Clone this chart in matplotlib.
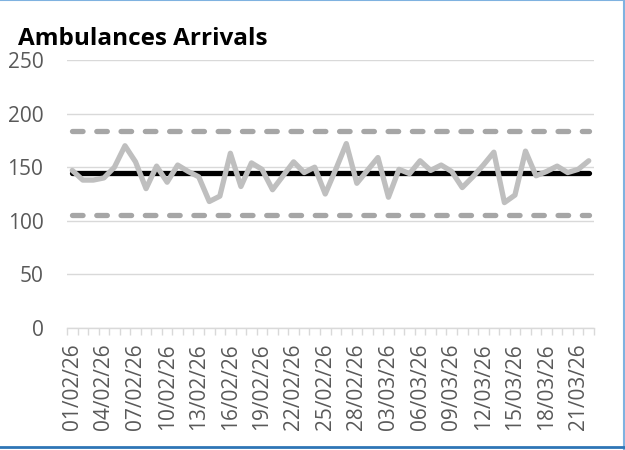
import matplotlib
matplotlib.use("Agg")
import matplotlib.pyplot as plt
from matplotlib.lines import Line2D
import numpy as np
import pandas as pd

# daily ambulance arrivals, 01/02/26 - 22/03/26
dates = pd.date_range("2026-02-01", "2026-03-22", freq="D")
arrivals = [147, 138, 138, 140, 150, 170, 155, 130, 151, 136,
            152, 146, 141, 118, 123, 163, 132, 154, 148, 129,
            142, 155, 145, 150, 125, 148, 172, 135, 147, 159,
            122, 148, 144, 156, 147, 152, 146, 131, 141, 152,
            164, 117, 124, 165, 142, 146, 151, 145, 148, 156]
mean_level = 144.5
upper_limit = 184
lower_limit = 105
y_ticks = [0, 50, 100, 150, 200, 250]

date_labels = [d.strftime("%d/%m/%y") for d in dates]
x = np.arange(len(arrivals))

plt.rcParams["font.family"] = ["Open Sans", "DejaVu Sans"]

fig = plt.figure(figsize=(6.25, 4.5), dpi=100)
ax = fig.add_axes([67 / 625, 1 - 328 / 450, (594 - 67) / 625, (328 - 60) / 450])

lw = 3.8
ax.plot(x, [upper_limit] * len(x), color="#A6A6A6", lw=lw,
        dashes=(2.0, 2.6), dash_capstyle="round", zorder=3)
ax.plot(x, [lower_limit] * len(x), color="#A6A6A6", lw=lw,
        dashes=(2.0, 2.6), dash_capstyle="round", zorder=3)
ax.plot(x, [mean_level] * len(x), color="black", lw=lw,
        solid_capstyle="round", zorder=4)
ax.plot(x, arrivals, color="#BFBFBF", lw=lw, solid_capstyle="round",
        solid_joinstyle="round", zorder=5)

ax.set_xlim(-0.5, len(x) - 0.5)
ax.set_ylim(0, 250)
ax.set_yticks(y_ticks)
ax.grid(axis="y", color="#D9D9D9", lw=1.0, zorder=0)
ax.set_axisbelow(True)

for side in ("left", "right", "top"):
    ax.spines[side].set_visible(False)
ax.spines["bottom"].set_color("#D9D9D9")
ax.spines["bottom"].set_linewidth(1.0)

ax.set_xticks(x[::3])
ax.set_xticklabels(date_labels[::3], rotation=90)
ax.set_xticks(np.arange(len(x) + 1) - 0.5, minor=True)
ax.tick_params(axis="x", which="major", length=0, pad=11,
               labelsize=15, labelcolor="#595959")
ax.tick_params(axis="x", which="minor", length=5, width=1.0,
               color="#D9D9D9")
ax.tick_params(axis="y", length=0, pad=17, labelsize=15,
               labelcolor="#595959")

fig.text(18 / 625, 1 - 45 / 450, "Ambulances Arrivals", fontsize=17.5,
         fontweight="bold", color="black", va="baseline", ha="left")

# chart border
fig.add_artist(Line2D([0, 1], [0.999, 0.999], transform=fig.transFigure,
                      color="#7FB2E0", lw=1.5))
fig.add_artist(Line2D([0.999, 0.999], [0, 1], transform=fig.transFigure,
                      color="#7FB2E0", lw=1.5))
fig.add_artist(Line2D([0, 1], [0.006, 0.006], transform=fig.transFigure,
                      color="#2E75B6", lw=2.0))

fig.savefig("out.png", dpi=100)
